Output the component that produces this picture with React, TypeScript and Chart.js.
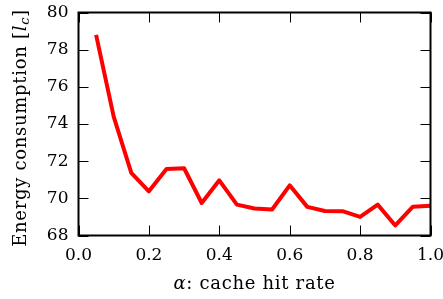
import React, { useEffect, useRef } from "react";
import { Chart, registerables } from "chart.js";

Chart.register(...registerables);

const hitRates = [0.05, 0.1, 0.15, 0.2, 0.25, 0.3, 0.35, 0.4, 0.45, 0.5, 0.55, 0.6, 0.65, 0.7, 0.75, 0.8, 0.85, 0.9, 0.95, 1.0];
const energy = [78.8, 74.4, 71.37, 70.38, 71.58, 71.62, 69.75, 70.97, 69.66, 69.45, 69.4, 70.7, 69.54, 69.32, 69.31, 69.0, 69.66, 68.54, 69.55, 69.6];
const xTicks = [0, 0.2, 0.4, 0.6, 0.8, 1.0];
const yTicks = [68, 70, 72, 74, 76, 78, 80];

const FAMILY = '"DejaVu Serif"';
const SIZE = 17;
const TSIZE = 18;

const framePlugin = {
  id: "frameAndTitles",
  afterDraw(chart: any) {
    const { ctx, chartArea } = chart;
    const { left, right, top, bottom } = chartArea;
    const xs = chart.scales.x;
    const ys = chart.scales.y;
    ctx.save();
    ctx.strokeStyle = "#000";
    ctx.lineWidth = 1;
    const tl = 10;
    ctx.beginPath();
    for (const v of xTicks) {
      const px = Math.round(xs.getPixelForValue(v)) + 0.5;
      ctx.moveTo(px, bottom);
      ctx.lineTo(px, bottom - tl);
      ctx.moveTo(px, top);
      ctx.lineTo(px, top + tl);
    }
    for (const v of yTicks) {
      const py = Math.round(ys.getPixelForValue(v)) + 0.5;
      ctx.moveTo(left, py);
      ctx.lineTo(left + tl, py);
      ctx.moveTo(right, py);
      ctx.lineTo(right - tl, py);
    }
    ctx.stroke();
    ctx.lineWidth = 2;
    ctx.strokeRect(left, top, right - left, bottom - top);

    ctx.fillStyle = "#000";
    ctx.textBaseline = "alphabetic";
    ctx.textAlign = "left";
    (ctx as any).letterSpacing = "0.7px";
    const roman = `${TSIZE}px ${FAMILY}`;
    const italic = `italic ${TSIZE}px ${FAMILY}`;
    const small = `italic 13px ${FAMILY}`;

    const drawParts = (parts: { t: string; f: string; dy?: number }[], cx: number) => {
      let w = 0;
      for (const p of parts) {
        ctx.font = p.f;
        w += ctx.measureText(p.t).width;
      }
      let x = cx - w / 2;
      for (const p of parts) {
        ctx.font = p.f;
        ctx.fillText(p.t, x, p.dy || 0);
        x += ctx.measureText(p.t).width;
      }
    };

    ctx.save();
    ctx.translate(0, 289);
    drawParts(
      [
        { t: "α", f: italic },
        { t: ": cache hit rate", f: roman },
      ],
      (left + right) / 2
    );
    ctx.restore();

    ctx.save();
    ctx.translate(26, 128);
    ctx.rotate(-Math.PI / 2);
    drawParts(
      [
        { t: "Energy consumption [", f: roman },
        { t: "l", f: italic },
        { t: "c", f: small, dy: 3 },
        { t: "]", f: roman },
      ],
      0
    );
    ctx.restore();
    ctx.restore();
  },
};

export default function App() {
  const canvasRef = useRef<HTMLCanvasElement | null>(null);

  useEffect(() => {
    if (!canvasRef.current) return;
    const chart = new Chart(canvasRef.current, {
      type: "line",
      data: {
        datasets: [
          {
            data: hitRates.map((x, i) => ({ x, y: energy[i] })),
            borderColor: "#ff0000",
            backgroundColor: "#ff0000",
            borderWidth: 4,
            pointRadius: 0,
            tension: 0,
            borderJoinStyle: "round",
            borderCapStyle: "butt",
            fill: false,
          },
        ],
      },
      options: {
        animation: false,
        responsive: true,
        maintainAspectRatio: false,
        layout: { padding: { top: 12.5, right: 12.5, left: 0, bottom: 0 } },
        plugins: {
          legend: { display: false },
          tooltip: { enabled: false },
        },
        scales: {
          x: {
            type: "linear",
            min: 0,
            max: 1,
            afterBuildTicks: (s: any) => {
              s.ticks = xTicks.map((v) => ({ value: v }));
            },
            ticks: {
              callback: (v: any) => Number(v).toFixed(1),
              font: { family: FAMILY, size: SIZE },
              color: "#000",
              padding: 10,
              maxRotation: 0,
              autoSkip: false,
            },
            grid: { display: false, drawTicks: false },
            border: { display: false },
            afterFit: (s: any) => {
              s.paddingLeft = 0;
              s.paddingRight = 0;
              s.height = 63.5;
            },
          },
          y: {
            type: "linear",
            min: 68,
            max: 80,
            afterBuildTicks: (s: any) => {
              s.ticks = yTicks.map((v) => ({ value: v }));
            },
            ticks: {
              callback: (v: any) => String(v),
              font: { family: FAMILY, size: SIZE },
              color: "#000",
              padding: 10,
              autoSkip: false,
            },
            grid: { display: false, drawTicks: false },
            border: { display: false },
            afterFit: (s: any) => {
              s.paddingTop = 0;
              s.paddingBottom = 0;
              s.width = 78.5;
            },
          },
        },
      },
      plugins: [framePlugin],
    });
    return () => chart.destroy();
  }, []);

  return (
    <div style={{ position: "fixed", left: 0, top: 0, width: 443, height: 299 }}>
      <canvas ref={canvasRef} />
    </div>
  );
}
